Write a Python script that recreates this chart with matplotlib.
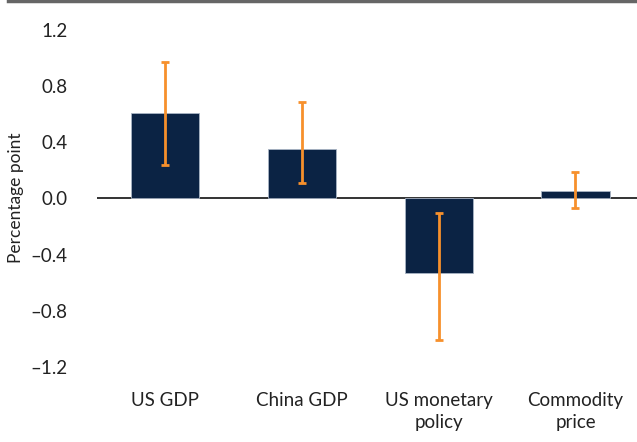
import matplotlib.pyplot as plt
from matplotlib.lines import Line2D
from matplotlib.ticker import FuncFormatter

plt.rcParams['font.family'] = ['Lato', 'DejaVu Sans']

categories = ['US GDP', 'China GDP', 'US monetary\npolicy', 'Commodity\nprice']
effects = [0.61, 0.355, -0.53, 0.055]
err_low = [0.24, 0.11, -1.01, -0.07]
err_high = [0.97, 0.69, -0.10, 0.19]
yticks = [-1.2, -0.8, -0.4, 0.0, 0.4, 0.8, 1.2]

navy = '#0b2344'
orange = '#f7902c'

fig = plt.figure(figsize=(6.37, 4.42), dpi=100)
ax = fig.add_axes([0.152, 0.138, 0.848, 0.826])

x = range(len(categories))
ax.bar(x, effects, width=0.5, color=navy, edgecolor='#a9b4c4', linewidth=0.6, zorder=2)
lower = [e - lo for e, lo in zip(effects, err_low)]
upper = [hi - e for e, hi in zip(effects, err_high)]
ax.errorbar(x, effects, yerr=[lower, upper], fmt='none', ecolor=orange,
            elinewidth=2, capsize=3, capthick=2, zorder=3)
ax.axhline(0, color='#333333', linewidth=1.4, zorder=1)

ax.set_xlim(-0.5, 3.45)
ax.set_ylim(-1.3, 1.3)
ax.set_xticks(list(x))
ax.set_xticklabels(categories, fontsize=13.5, color='#222222', linespacing=1.35)
ax.set_yticks(yticks)
ax.yaxis.set_major_formatter(FuncFormatter(lambda v, p: f'{v:.1f}'.replace('-', '\u2013')))
ax.tick_params(axis='y', length=0, pad=21, labelsize=13.5, labelcolor='#222222')
ax.tick_params(axis='x', length=0, pad=8)
for s in ax.spines.values():
    s.set_visible(False)

fig.text(16 / 637, 1 - 198 / 442, 'Percentage point', rotation=90, fontsize=12.5,
         color='#222222', ha='center', va='center')

fig.add_artist(Line2D([8 / 637, 1], [0.998, 0.998], color='#666666', linewidth=2.5,
                      transform=fig.transFigure))

fig.savefig('out.png', dpi=100)
